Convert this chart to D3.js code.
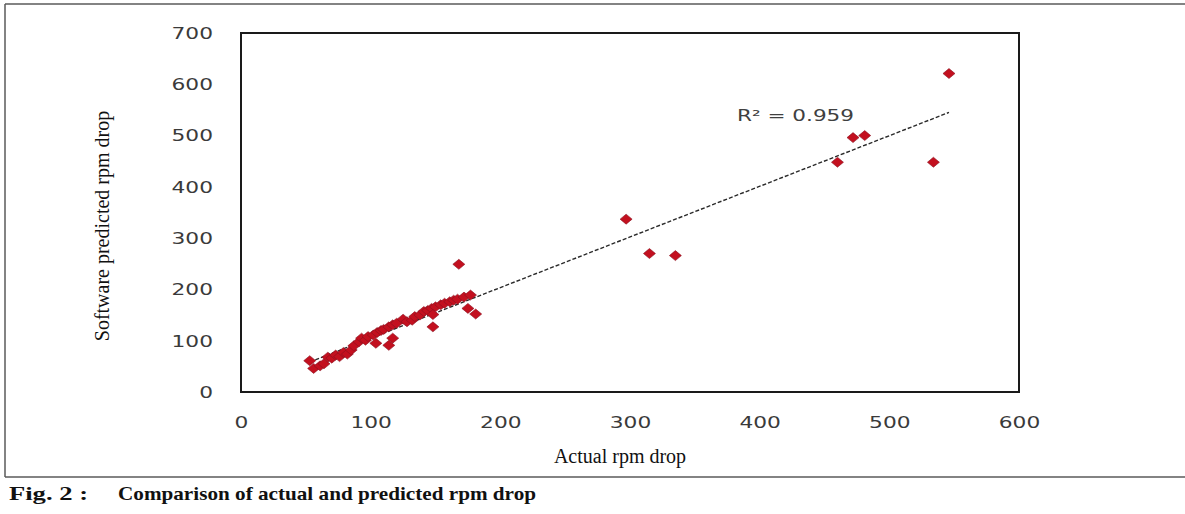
<!DOCTYPE html>
<html>
<head>
<meta charset="utf-8">
<script src="https://cdn.jsdelivr.net/npm/d3@7"></script>
<style>
  body { margin: 0; background: #fff; }
  svg { display: block; }
</style>
</head>
<body>
<div id="chart"></div>
<script>
// actual rpm drop (x) vs software predicted rpm drop (y)
const actualDrop = [53, 56, 61, 64, 67, 70, 73, 76, 79, 82, 85, 87, 91, 93, 96, 98,
    102, 105, 108, 110, 114, 117, 120, 125, 128, 132, 134, 138, 141, 144, 147, 150,
    154, 157, 161, 164, 167, 172, 177,
    104, 114, 117, 148, 148, 175, 181, 168,
    297, 315, 335, 460, 472, 481, 534, 546];
const predictedDrop = [61, 46, 51, 55, 68, 66, 72, 69, 77, 74, 82, 90, 98, 105, 101, 108,
    111, 116, 120, 122, 127, 131, 134, 142, 137, 140, 147, 150, 157, 159, 163, 166,
    170, 173, 176, 179, 181, 185, 189,
    95, 91, 105, 127, 151, 163, 152, 249,
    337, 270, 266, 448, 496, 500, 448, 621];
const xTicks = [0, 100, 200, 300, 400, 500, 600];
const yTicks = [0, 100, 200, 300, 400, 500, 600, 700];
const r2Label = "R\u00b2 = 0.959";
const xTitle = "Actual rpm drop";
const yTitle = "Software predicted rpm drop";
const captionFig = "Fig.  2 :";
const captionText = "Comparison of actual and predicted rpm drop";

const width = 1185, height = 514;
const plot = {left: 241, right: 1019, top: 33, bottom: 392};
const stretch = 1.45;   // the source is widened, so text is too

let svg = d3.select("#chart").append("svg")
            .attr("width", width)
            .attr("height", height);

// outer frame of the figure
let frame = svg.append("g")
               .attr("stroke", "#5a5a5a")
               .attr("stroke-width", 1.5)
               .attr("fill", "none");
frame.append("line").attr("x1", 5).attr("y1", 4).attr("x2", width).attr("y2", 4);
frame.append("line").attr("x1", 5).attr("y1", 4).attr("x2", 5).attr("y2", 477);
frame.append("line").attr("x1", 5).attr("y1", 477).attr("x2", width).attr("y2", 477);

let xScale = d3.scaleLinear()
               .domain([0, 600])
               .range([plot.left, plot.right]);

let yScale = d3.scaleLinear()
               .domain([0, 700])
               .range([plot.bottom, plot.top]);

// axes, no tick marks, just labels
let xAxis = svg.append("g")
               .attr("transform", "translate(0," + plot.bottom + ")")
               .call(d3.axisBottom(xScale).tickValues(xTicks).tickSize(0));
xAxis.select(".domain").remove();
xAxis.selectAll("text")
     .attr("y", 36)
     .attr("dy", 0)
     .attr("transform", "scale(" + stretch + ",1)")
     .style("font-family", "DejaVu Sans")
     .style("font-size", "15px")
     .attr("fill", "#3a3a3a");

let yAxis = svg.append("g")
               .attr("transform", "translate(" + plot.left + ",0)")
               .call(d3.axisLeft(yScale).tickValues(yTicks).tickSize(0));
yAxis.select(".domain").remove();
yAxis.selectAll("text")
     .attr("x", -28 / stretch)
     .attr("dy", "0.36em")
     .attr("transform", "scale(" + stretch + ",1)")
     .style("font-family", "DejaVu Sans")
     .style("font-size", "15px")
     .attr("fill", "#3a3a3a");

// plot area box
svg.append("rect")
   .attr("x", plot.left)
   .attr("y", plot.top)
   .attr("width", plot.right - plot.left)
   .attr("height", plot.bottom - plot.top)
   .attr("fill", "none")
   .attr("stroke", "#1a1a1a")
   .attr("stroke-width", 2);

// linear trendline by least squares
let points = actualDrop.map((a, i) => ({x: a, y: predictedDrop[i]}));
let mx = d3.mean(points, d => d.x);
let my = d3.mean(points, d => d.y);
let sxy = d3.sum(points, d => (d.x - mx) * (d.y - my));
let sxx = d3.sum(points, d => (d.x - mx) * (d.x - mx));
let slope = sxy / sxx;
let intercept = my - slope * mx;
let xExt = d3.extent(points, d => d.x);

svg.append("line")
   .attr("x1", xScale(xExt[0]))
   .attr("y1", yScale(intercept + slope * xExt[0]))
   .attr("x2", xScale(xExt[1]))
   .attr("y2", yScale(intercept + slope * xExt[1]))
   .attr("stroke", "#2a2a2a")
   .attr("stroke-width", 1.4)
   .attr("stroke-dasharray", "4,2");

// diamond markers
let diamond = "M0,-5 L6,0 L0,5 L-6,0 Z";
svg.append("g")
   .selectAll("path")
   .data(points)
   .enter()
   .append("path")
   .attr("d", diamond)
   .attr("transform", d => "translate(" + xScale(d.x) + "," + yScale(d.y) + ")")
   .attr("fill", "#c3101f")
   .attr("stroke", "#8a1020")
   .attr("stroke-width", 0.6);

// R squared label
svg.append("text")
   .attr("x", 737)
   .attr("y", 121)
   .attr("textLength", 117)
   .attr("lengthAdjust", "spacingAndGlyphs")
   .style("font-family", "DejaVu Sans")
   .style("font-size", "15px")
   .attr("fill", "#404040")
   .text(r2Label);

// axis titles
svg.append("text")
   .attr("x", 620)
   .attr("y", 463)
   .attr("text-anchor", "middle")
   .style("font-family", "Liberation Serif")
   .style("font-size", "20px")
   .attr("fill", "#111")
   .text(xTitle);

svg.append("text")
   .attr("transform", "translate(109,226) rotate(-90)")
   .attr("text-anchor", "middle")
   .style("font-family", "Liberation Serif")
   .style("font-size", "20px")
   .attr("fill", "#111")
   .text(yTitle);

// caption
svg.append("text")
   .attr("x", 9)
   .attr("y", 500)
   .attr("textLength", 79)
   .attr("lengthAdjust", "spacingAndGlyphs")
   .style("font-family", "Liberation Serif")
   .style("font-size", "19px")
   .style("font-weight", "bold")
   .attr("fill", "#111")
   .text(captionFig);

svg.append("text")
   .attr("x", 118)
   .attr("y", 500)
   .attr("textLength", 418)
   .attr("lengthAdjust", "spacingAndGlyphs")
   .style("font-family", "Liberation Serif")
   .style("font-size", "19px")
   .style("font-weight", "bold")
   .attr("fill", "#111")
   .text(captionText);
</script>
</body>
</html>
